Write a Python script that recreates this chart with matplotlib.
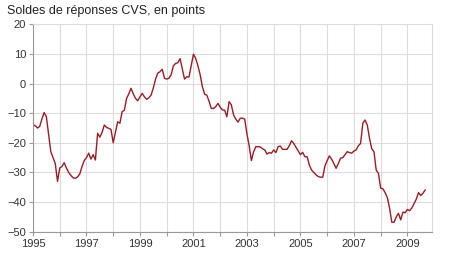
import matplotlib
matplotlib.use("Agg")
import matplotlib.pyplot as plt
import numpy as np

# Monthly values, Jan 1995 .. Sep 2009
start_year = 1995
values = [
    # 1995
    -14.0, -14.2, -15.0, -14.5, -12.0, -9.8, -11.2, -17.0, -23.0, -25.0, -27.0, -33.0,
    # 1996
    -28.5, -28.0, -26.7, -28.5, -30.0, -31.0, -31.8, -32.0, -31.5, -30.5, -28.0, -26.0,
    # 1997
    -25.0, -23.5, -25.5, -24.0, -25.8, -16.8, -18.1, -16.5, -14.0, -14.8, -15.1, -15.5,
    # 1998
    -20.0, -16.5, -12.9, -13.4, -9.5, -9.0, -5.0, -3.5, -1.6, -3.5, -5.0, -5.8,
    # 1999
    -4.5, -3.3, -4.5, -5.3, -4.8, -3.9, -1.5, 1.5, 3.5, 4.0, 4.8, 1.8,
    # 2000
    1.5, 1.8, 3.0, 6.0, 6.8, 7.0, 8.4, 5.0, 1.5, 2.3, 2.2, 6.0,
    # 2001
    9.9, 8.5, 6.0, 3.0, -1.0, -3.6, -3.9, -6.0, -8.4, -8.4, -7.8, -6.7,
    # 2002
    -8.0, -8.9, -9.0, -11.2, -6.1, -7.2, -10.6, -12.0, -13.0, -11.7, -11.7, -12.0,
    # 2003
    -17.0, -21.0, -26.0, -23.0, -21.3, -21.3, -21.4, -22.0, -22.4, -23.8, -23.3, -23.5,
    # 2004
    -22.4, -23.3, -21.3, -21.1, -22.2, -22.2, -22.2, -21.0, -19.3, -20.2, -21.5, -22.7,
    # 2005
    -24.0, -23.2, -24.7, -24.7, -27.5, -29.2, -30.0, -30.8, -31.4, -31.6, -31.6, -27.8,
    # 2006
    -26.0, -24.4, -25.5, -27.0, -28.6, -27.0, -25.2, -25.0, -24.0, -23.0, -23.3, -23.5,
    # 2007
    -22.8, -22.4, -21.0, -20.2, -13.4, -12.3, -14.0, -18.5, -22.0, -23.0, -29.2, -30.3,
    # 2008
    -35.3, -35.5, -36.8, -38.5, -42.0, -46.8, -46.8, -45.0, -43.8, -46.0, -43.4, -43.6,
    # 2009
    -42.5, -42.9, -42.0, -40.5, -39.0, -36.8, -37.8, -37.0, -35.9,
]
year_ticks = list(range(1995, 2010))
year_labels = [str(y) if y % 2 == 1 else "" for y in year_ticks]
y_ticks = [-50, -40, -30, -20, -10, 0, 10, 20]

plt.rcParams["font.family"] = ["Liberation Sans", "DejaVu Sans"]

x = start_year + np.arange(len(values)) / 12.0

fig = plt.figure(figsize=(4.5, 2.79), dpi=100)
ax = fig.add_axes([0.0733, 0.1695, 0.8867, 0.7435])

ax.plot(x, values, color="#9e1b22", linewidth=1.0)

ax.set_xlim(1995, 2009.92)
ax.set_ylim(-50, 20)
ax.set_xticks(year_ticks)
ax.set_xticklabels(year_labels)
ax.set_yticks(y_ticks)
ax.tick_params(axis="both", labelsize=8, colors="#333333", length=3, width=0.8,
               color="#999999", pad=2)
ax.grid(True, color="#dcdcdc", linewidth=0.8)
ax.set_axisbelow(True)
for side in ("left", "bottom"):
    ax.spines[side].set_color("#999999")
for side in ("top", "right"):
    ax.spines[side].set_color("#dcdcdc")

fig.text(0.016, 0.962, "Soldes de réponses CVS, en points", fontsize=9,
         color="#222222", va="center", ha="left")

fig.savefig("out.png", dpi=100)
